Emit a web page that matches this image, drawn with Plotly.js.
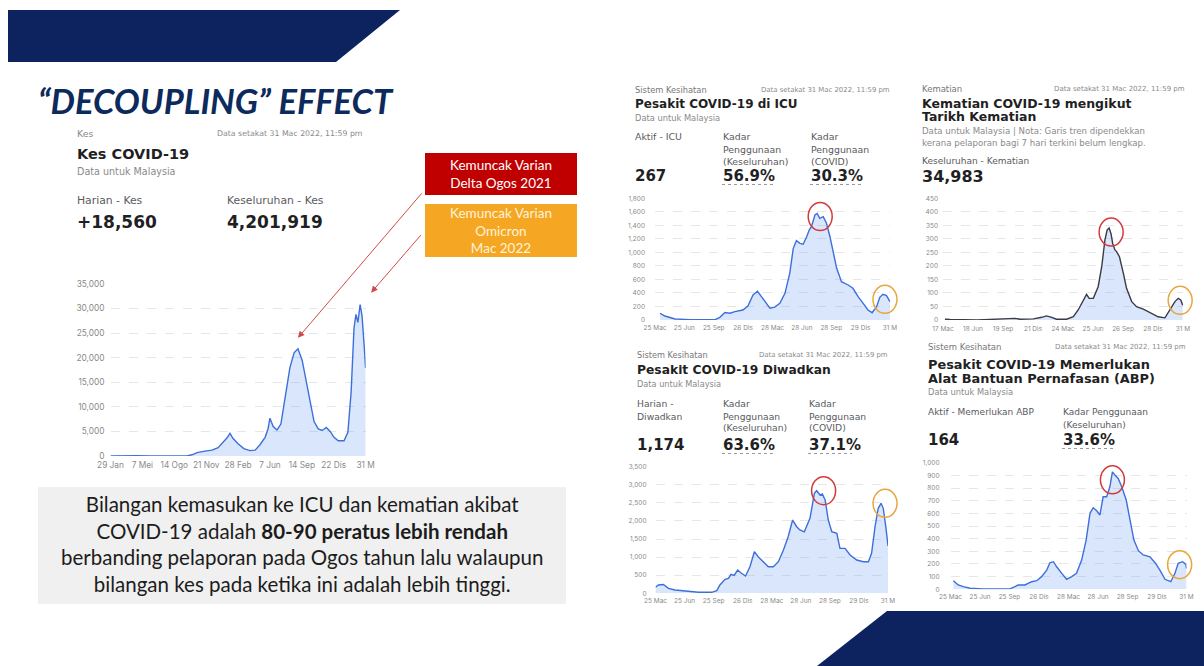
<!DOCTYPE html>
<html><head><meta charset="utf-8">
<script src="https://cdn.plot.ly/plotly-3.0.1.min.js"></script>
<style>html,body{margin:0;padding:0;background:#fff;}#c{width:1204px;height:666px;}</style>
</head><body><div id="c"></div>
<script>
// ---------- DATA ----------
const kesDates = ['2020-01-29','2020-02-27','2020-03-20','2020-04-02','2020-04-20','2020-05-31','2020-08-01','2020-09-22','2020-10-08','2020-10-24','2020-11-17','2020-12-09','2020-12-28','2021-01-12','2021-01-25','2021-02-03','2021-02-12','2021-02-28','2021-03-18','2021-04-06','2021-04-22','2021-05-07','2021-05-23','2021-06-01','2021-06-07','2021-06-17','2021-06-29','2021-07-11','2021-07-24','2021-08-08','2021-08-21','2021-09-02','2021-09-15','2021-09-27','2021-10-10','2021-10-22','2021-11-04','2021-11-16','2021-11-29','2021-12-11','2021-12-23','2022-01-05','2022-01-23','2022-02-04','2022-02-14','2022-02-23','2022-03-01','2022-03-07','2022-03-14','2022-03-20','2022-03-27','2022-03-31'];
const kesVals = [0,20,150,170,70,30,15,30,250,700,1000,1200,1700,2700,3700,4600,3600,2500,1500,1100,1200,2300,3800,5500,7700,6000,5300,6500,12000,18000,21000,21800,19500,15500,10500,7000,5500,5200,5800,5000,3800,3100,3100,4800,13000,26000,28800,27200,30800,28500,22000,17900];
const kesTickVals = ['2020-01-29','2020-05-07','2020-08-14','2020-11-21','2021-02-28','2021-06-07','2021-09-14','2021-12-22','2022-03-31'];
const kesTickText = ['29 Jan','7 Mei','14 Ogo','21 Nov','28 Feb','7 Jun','14 Sep','22 Dis','31 M'];

const icuDates = ['2020-04-10','2020-04-25','2020-05-27','2020-07-13','2020-09-29','2020-10-14','2020-10-30','2020-11-15','2020-11-30','2020-12-25','2021-01-10','2021-01-26','2021-02-09','2021-02-22','2021-03-04','2021-03-20','2021-04-04','2021-04-20','2021-05-06','2021-05-21','2021-06-01','2021-06-11','2021-06-22','2021-07-02','2021-07-13','2021-07-21','2021-07-28','2021-08-08','2021-08-15','2021-08-23','2021-09-03','2021-09-13','2021-09-24','2021-10-04','2021-10-15','2021-10-30','2021-11-20','2021-12-05','2021-12-21','2022-01-06','2022-01-21','2022-02-03','2022-02-17','2022-02-27','2022-03-09','2022-03-20','2022-03-31'];
const icuVals = [99,59,15,5,5,40,110,100,123,148,207,370,425,345,270,175,190,247,395,690,1060,1173,1134,1120,1232,1331,1380,1553,1575,1504,1528,1430,1232,986,765,567,518,469,345,247,148,108,197,335,380,360,270];

const deathDates = ['2020-03-23','2020-04-08','2020-06-30','2020-10-11','2020-10-26','2020-11-11','2020-12-22','2021-01-17','2021-02-01','2021-02-17','2021-03-04','2021-04-04','2021-04-25','2021-05-10','2021-05-26','2021-06-05','2021-06-13','2021-06-26','2021-07-11','2021-07-22','2021-08-01','2021-08-08','2021-08-14','2021-08-20','2021-08-25','2021-09-01','2021-09-06','2021-09-15','2021-09-27','2021-10-07','2021-10-23','2021-11-07','2021-11-28','2021-12-19','2022-01-13','2022-02-03','2022-02-19','2022-03-06','2022-03-16','2022-03-24','2022-03-30'];
const deathVals = [3,2,0,3,6,3,4,10,15,10,3,3,12,37,74,95,80,80,123,197,296,333,340,318,283,259,253,234,173,117,68,49,40,28,12,8,37,68,80,74,55];

const admDates = ['2020-03-25','2020-04-03','2020-04-19','2020-05-05','2020-05-26','2020-06-16','2020-07-02','2020-08-08','2020-09-19','2020-10-05','2020-10-15','2020-10-31','2020-11-11','2020-11-19','2020-11-29','2020-12-10','2020-12-22','2021-01-04','2021-01-18','2021-02-01','2021-02-13','2021-03-01','2021-03-17','2021-04-02','2021-04-18','2021-05-04','2021-05-19','2021-06-02','2021-06-15','2021-06-25','2021-07-09','2021-07-27','2021-08-10','2021-08-17','2021-08-28','2021-09-04','2021-09-13','2021-09-23','2021-10-04','2021-10-20','2021-10-30','2021-11-15','2021-12-01','2021-12-22','2022-01-12','2022-01-28','2022-02-07','2022-02-18','2022-02-28','2022-03-09','2022-03-16','2022-03-24','2022-03-31'];
const admVals = [166,229,245,138,92,74,46,28,28,74,229,387,414,525,497,644,553,478,736,1150,1012,874,736,736,874,1197,1565,2025,1841,1750,1700,2072,2763,2836,2717,2745,2578,2025,1703,1657,1243,1243,1058,920,874,874,1105,1841,2349,2487,2349,1841,1307];

const abpDates = ['2020-04-03','2020-04-18','2020-05-04','2020-05-25','2020-07-05','2020-09-27','2020-10-12','2020-10-22','2020-11-12','2020-12-03','2020-12-19','2021-01-03','2021-01-19','2021-01-29','2021-02-09','2021-02-19','2021-03-07','2021-03-22','2021-04-07','2021-04-22','2021-05-08','2021-05-22','2021-06-03','2021-06-13','2021-06-24','2021-07-04','2021-07-14','2021-07-25','2021-08-04','2021-08-12','2021-08-20','2021-08-30','2021-09-10','2021-09-24','2021-10-06','2021-10-18','2021-11-01','2021-11-16','2021-12-07','2021-12-23','2022-01-07','2022-01-23','2022-02-10','2022-02-23','2022-03-05','2022-03-19','2022-03-29','2022-03-31'];
const abpVals = [68,34,21,8,3,3,21,34,34,60,68,100,152,210,218,178,126,79,100,126,231,389,600,644,620,587,731,731,810,928,902,876,810,705,547,389,305,271,257,210,152,79,60,126,205,218,197,163];

const hospTickVals = ['2020-03-25','2020-06-25','2020-09-25','2020-12-26','2021-03-28','2021-06-28','2021-09-28','2021-12-29','2022-03-31'];
const hospTickText = ['25 Mac','25 Jun','25 Sep','26 Dis','28 Mac','28 Jun','28 Sep','29 Dis','31 M'];
const deathTickVals = ['2020-03-17','2020-06-18','2020-09-19','2020-12-21','2021-03-24','2021-06-25','2021-09-26','2021-12-28','2022-03-31'];
const deathTickText = ['17 Mac','18 Jun','19 Sep','21 Dis','24 Mac','25 Jun','26 Sep','28 Dis','31 M'];

// ---------- HELPERS ----------
const W = 1204, H = 666;
const X = p => p / W, Y = p => 1 - p / H;
const DV = '"DejaVu Sans", Inter, sans-serif';
const INTER = 'Inter, "Noto Sans", sans-serif';
const LATO = 'Lato, "Open Sans", sans-serif';
const BLUE = '#3d6fdb', FILL = 'rgba(120,165,240,0.28)';

// chart panels: pixel frame (left,right,bottom,top) and ranges
const P = {
  kes:   {l: 110.5, r: 365.6, b: 456,   t: 284,   xr: ['2020-01-29','2022-03-31'], yr: [0, 35000]},
  icu:   {l: 655,   r: 890,   b: 320,   t: 198.3, xr: ['2020-03-25','2022-03-31'], yr: [0, 1800]},
  death: {l: 943,   r: 1183,  b: 320,   t: 198.3, xr: ['2020-03-17','2022-03-31'], yr: [0, 450]},
  adm:   {l: 655.5, r: 888,   b: 593.3, t: 466.7, xr: ['2020-03-25','2022-03-31'], yr: [0, 3500]},
  abp:   {l: 950.5, r: 1186.5,b: 589.3, t: 462.7, xr: ['2020-03-25','2022-03-31'], yr: [0, 1000]}
};
function dataToPx(p, d, v) {
  const t0 = Date.parse(p.xr[0]), t1 = Date.parse(p.xr[1]);
  return [p.l + (Date.parse(d) - t0) / (t1 - t0) * (p.r - p.l), p.b - (v - p.yr[0]) / (p.yr[1] - p.yr[0]) * (p.b - p.t)];
}
function peakIdx(dates, vals, from, to) {
  let best = -1;
  for (let i = 0; i < dates.length; i++) {
    if (dates[i] >= from && dates[i] <= to && (best < 0 || vals[i] > vals[best])) best = i;
  }
  return best;
}
function xa(p, tv, tt, anchor, fs, so) {
  return {domain: [X(p.l), X(p.r)], range: p.xr, type: 'date', anchor: anchor, tickmode: 'array', tickvals: tv, ticktext: tt,
    showgrid: false, zeroline: false, showline: false, ticks: '', fixedrange: true,
    tickfont: {family: INTER, size: fs, color: '#8a8a8a'}, ticklabelstandoff: so};
}
function ya(p, dt, anchor, fs, so) {
  return {domain: [Y(p.b), Y(p.t)], range: p.yr, dtick: dt, tick0: 0, tickformat: ',', anchor: anchor,
    showgrid: true, gridcolor: '#e6e6e6', griddash: 'dash', gridwidth: 1, zeroline: false, showline: false,
    ticks: '', fixedrange: true, tickfont: {family: INTER, size: fs, color: '#8a8a8a'}, ticklabelstandoff: so};
}
function T(text, px, py, size, color, o) {
  return Object.assign({xref: 'paper', yref: 'paper', x: X(px), y: Y(py), xanchor: 'left', yanchor: 'middle',
    text: text, showarrow: false, align: 'left', font: {family: DV, size: size, color: color}}, o || {});
}
function line(dates, vals, xax, yax, color) {
  return {x: dates, y: vals, xaxis: xax, yaxis: yax, type: 'scatter', mode: 'lines',
    line: {color: color, width: 1.4}, fill: 'tozeroy', fillcolor: FILL, hoverinfo: 'skip'};
}
function circ(p, dates, vals, idx, dx, dy, color) {
  const c = dataToPx(p, dates[idx], vals[idx]);
  const cx = c[0] + dx, cy = c[1] + dy;
  return {type: 'circle', xref: 'paper', yref: 'paper', x0: X(cx - 12), x1: X(cx + 12), y0: Y(cy + 14), y1: Y(cy - 14),
    line: {color: color, width: 1.5}, fillcolor: 'rgba(0,0,0,0)'};
}
function dotted(x0, x1, py) {
  return {type: 'line', xref: 'paper', yref: 'paper', x0: X(x0), x1: X(x1), y0: Y(py), y1: Y(py),
    line: {color: '#9a9a9a', width: 1, dash: 'dot'}};
}
function rect(x0, y0, x1, y1, fill) {
  return {type: 'rect', xref: 'paper', yref: 'paper', x0: X(x0), x1: X(x1), y0: Y(y1), y1: Y(y0),
    fillcolor: fill, line: {width: 0}, layer: 'below'};
}
function poly(pts, fill) {
  return {type: 'path', xref: 'paper', yref: 'paper',
    path: 'M ' + pts.map(p => X(p[0]) + ',' + Y(p[1])).join(' L ') + ' Z', fillcolor: fill, line: {width: 0}};
}

// ---------- TRACES ----------
const data = [
  line(kesDates, kesVals, 'x', 'y', BLUE),
  line(icuDates, icuVals, 'x2', 'y2', BLUE),
  line(deathDates, deathVals, 'x3', 'y3', '#3a3b46'),
  line(admDates, admVals, 'x4', 'y4', BLUE),
  line(abpDates, abpVals, 'x5', 'y5', BLUE)
];

const RED = '#d23a3a', ORANGE = '#e9a63c';
const iR = peakIdx(icuDates, icuVals, '2021-06-01', '2021-11-30'), iO = peakIdx(icuDates, icuVals, '2022-01-15', '2022-12-31');
const dR = peakIdx(deathDates, deathVals, '2021-06-01', '2021-11-30'), dO = peakIdx(deathDates, deathVals, '2022-01-15', '2022-12-31');
const aR = peakIdx(admDates, admVals, '2021-06-01', '2021-11-30'), aO = peakIdx(admDates, admVals, '2022-01-15', '2022-12-31');
const bR = peakIdx(abpDates, abpVals, '2021-06-01', '2021-11-30'), bO = peakIdx(abpDates, abpVals, '2022-01-15', '2022-12-31');
const kD = peakIdx(kesDates, kesVals, '2021-06-15', '2021-11-30'), kO = peakIdx(kesDates, kesVals, '2022-01-15', '2022-12-31');

const shapes = [
  poly([[8,10],[400,10],[336,62],[8,62]], '#0d235f'),
  poly([[887,611],[1204,611],[1204,666],[817,666]], '#0d235f'),
  rect(425,153,577,195,'#c00000'),
  rect(425,204,577,257,'#f5a623'),
  rect(38,487,566,604,'#f0f0f0'),
  circ(P.icu, icuDates, icuVals, iR, 3, 3, RED), circ(P.icu, icuDates, icuVals, iO, 2, 5, ORANGE),
  circ(P.death, deathDates, deathVals, dR, 2, 4, RED), circ(P.death, deathDates, deathVals, dO, 2, 2, ORANGE),
  circ(P.adm, admDates, admVals, aR, 7, 0, RED), circ(P.adm, admDates, admVals, aO, 4, 0, ORANGE),
  circ(P.abp, abpDates, abpVals, bR, 0, 8, RED), circ(P.abp, abpDates, abpVals, bO, -3, 3, ORANGE),
  dotted(722,776,184.5), dotted(810,864,184.5),
  dotted(722,776,453.5), dotted(808,852,453.5),
  dotted(1062,1115,448.5)
];

const G = '#8a8a8a', D = '#1f1f24', M = '#5a5a60';
const annotations = [
  T('<b><i>“DECOUPLING” EFFECT</i></b>', 36, 101, 34.5, '#0d2a5c', {font: {family: LATO, size: 34.5, color: '#0d2a5c'}}),
  // Kes panel
  T('Kes', 75, 133, 9.4, G),
  T('Data setakat 31 Mac 2022, 11:59 pm', 215, 133, 7.8, G),
  T('<b>Kes COVID-19</b>', 75, 154, 14.5, D),
  T('Data untuk Malaysia', 75, 172, 9.6, G),
  T('Harian - Kes', 75, 200, 10.8, M),
  T('<b>+18,560</b>', 75, 222, 17, D),
  T('Keseluruhan - Kes', 225, 200, 10.8, M),
  T('<b>4,201,919</b>', 225, 222, 17, D),
  // boxes
  T('Kemuncak Varian<br>Delta Ogos 2021', 501, 174, 13.5, '#ffffff', {xanchor: 'center', align: 'center', font: {family: LATO, size: 13.5, color: '#ffffff'}}),
  T('Kemuncak Varian<br>Omicron<br>Mac 2022', 501, 230.5, 13.5, '#fff4da', {xanchor: 'center', align: 'center', font: {family: LATO, size: 13.5, color: '#fff4da'}}),
  T('Bilangan kemasukan ke ICU dan kematian akibat<br>COVID-19 adalah <b>80-90 peratus lebih rendah</b><br>berbanding pelaporan pada Ogos tahun lalu walaupun<br>bilangan kes pada ketika ini adalah lebih tinggi.', 302, 544, 20.5, '#1c1c1c', {xanchor: 'center', align: 'center', font: {family: LATO, size: 20.5, color: '#1c1c1c'}}),
  // arrows
  {xref: 'x', yref: 'y', x: kesDates[kD], y: kesVals[kD], text: '', showarrow: true, arrowhead: 2, arrowsize: 1.3, arrowwidth: 1, arrowcolor: '#d04a4a', ax: 125, ay: -146, yshift: 11, standoff: 0},
  {xref: 'x', yref: 'y', x: kesDates[kO], y: kesVals[kO], text: '', showarrow: true, arrowhead: 2, arrowsize: 1.3, arrowwidth: 1, arrowcolor: '#d04a4a', ax: 51, ay: -59, xshift: 11, yshift: 12, standoff: 0},
  // ICU panel
  T('Sistem Kesihatan', 633, 90, 8.3, '#777'),
  T('Data setakat 31 Mac 2022, 11:59 pm', 892, 90, 6.9, G, {xanchor: 'right'}),
  T('<b>Pesakit COVID-19 di ICU</b>', 633, 104, 12, D),
  T('Data untuk Malaysia', 633, 118, 8.3, G),
  T('Aktif - ICU', 633, 137, 9.4, M),
  T('Kadar', 721, 137, 9.4, M), T('Penggunaan', 721, 149, 9.4, M), T('(Keseluruhan)', 721, 161, 9.4, M),
  T('Kadar', 809, 137, 9.4, M), T('Penggunaan', 809, 149, 9.4, M), T('(COVID)', 809, 161, 9.4, M),
  T('<b>267</b>', 633, 176, 15, D), T('<b>56.9%</b>', 721, 176, 15, D), T('<b>30.3%</b>', 809, 176, 15, D),
  // Deaths panel
  T('Kematian', 920, 89, 8.5, '#777'),
  T('Data setakat 31 Mac 2022, 11:59 pm', 1187, 89, 7, G, {xanchor: 'right'}),
  T('<b>Kematian COVID-19 mengikut</b>', 920, 103, 12.5, D),
  T('<b>Tarikh Kematian</b>', 920, 117, 12.5, D),
  T('Data untuk Malaysia | Nota: Garis tren dipendekkan', 920, 131, 8.6, G),
  T('kerana pelaporan bagi 7 hari terkini belum lengkap.', 920, 143, 8.6, G),
  T('Keseluruhan - Kematian', 920, 161, 9, M),
  T('<b>34,983</b>', 920, 177, 16, D),
  // Diwadkan panel
  T('Sistem Kesihatan', 635, 355, 8.2, '#777'),
  T('Data setakat 31 Mac 2022, 11:59 pm', 890, 355, 6.9, G, {xanchor: 'right'}),
  T('<b>Pesakit COVID-19 Diwadkan</b>', 635, 370, 12.3, D),
  T('Data untuk Malaysia', 635, 384, 8.2, G),
  T('Harian -', 635, 403, 9.2, M), T('Diwadkan', 635, 416, 9.2, M),
  T('Kadar', 721, 403, 9.2, M), T('Penggunaan', 721, 416, 9.2, M), T('(Keseluruhan)', 721, 428, 9.2, M),
  T('Kadar', 807, 403, 9.2, M), T('Penggunaan', 807, 416, 9.2, M), T('(COVID)', 807, 428, 9.2, M),
  T('<b>1,174</b>', 635, 445, 15, D), T('<b>63.6%</b>', 721, 445, 15, D), T('<b>37.1%</b>', 807, 445, 15, D),
  // ABP panel
  T('Sistem Kesihatan', 926, 347, 8.5, '#777'),
  T('Data setakat 31 Mac 2022, 11:59 pm', 1188, 347, 7, G, {xanchor: 'right'}),
  T('<b>Pesakit COVID-19 Memerlukan</b>', 926, 364, 12.9, D),
  T('<b>Alat Bantuan Pernafasan (ABP)</b>', 926, 378, 12.9, D),
  T('Data untuk Malaysia', 926, 392, 8.3, G),
  T('Aktif - Memerlukan ABP', 926, 412, 9, M),
  T('Kadar Penggunaan', 1061, 412, 9, M), T('(Keseluruhan)', 1061, 425, 9, M),
  T('<b>164</b>', 926, 440, 15, D), T('<b>33.6%</b>', 1061, 440, 15, D)
];

const layout = {
  width: W, height: H, margin: {l: 0, r: 0, t: 0, b: 0}, paper_bgcolor: '#ffffff', plot_bgcolor: 'rgba(0,0,0,0)',
  showlegend: false, font: {family: INTER},
  xaxis: xa(P.kes, kesTickVals, kesTickText, 'y', 8.3, 3),
  yaxis: ya(P.kes, 5000, 'x', 8.3, 5),
  xaxis2: xa(P.icu, hospTickVals, hospTickText, 'y2', 6.5, 2),
  yaxis2: ya(P.icu, 200, 'x2', 6.5, 9),
  xaxis3: xa(P.death, deathTickVals, deathTickText, 'y3', 6.5, 3),
  yaxis3: ya(P.death, 50, 'x3', 6.5, 4),
  xaxis4: xa(P.adm, hospTickVals, hospTickText, 'y4', 6.5, 2),
  yaxis4: ya(P.adm, 500, 'x4', 6.5, 8),
  xaxis5: xa(P.abp, hospTickVals, hospTickText, 'y5', 6.5, 2),
  yaxis5: ya(P.abp, 100, 'x5', 6.5, 10),
  shapes: shapes, annotations: annotations
};
Plotly.newPlot('c', data, layout, {staticPlot: true, displayModeBar: false});
</script></body></html>
